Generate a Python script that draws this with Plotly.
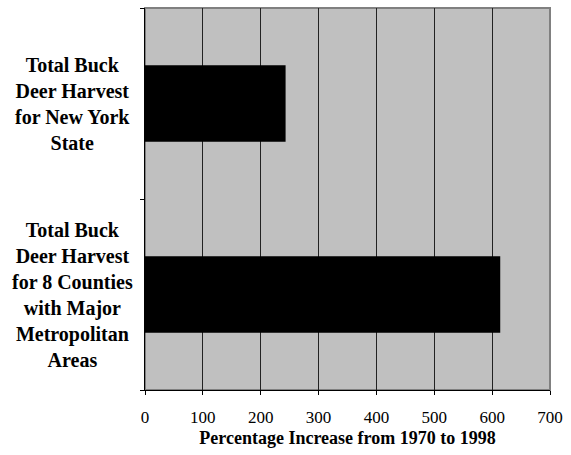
import plotly.graph_objects as go

categories = [
    "Total Buck<br>Deer Harvest<br>for 8 Counties<br>with Major<br>Metropolitan<br>Areas",
    "Total Buck<br>Deer Harvest<br>for New York<br>State",
]
values = [614, 243]
x_ticks = [0, 100, 200, 300, 400, 500, 600, 700]
x_title = "Percentage Increase from 1970 to 1998"

FONT = "Liberation Serif"

fig = go.Figure(
    go.Bar(
        y=categories,
        x=values,
        orientation="h",
        marker=dict(color="black", line=dict(width=0)),
        width=0.4,
    )
)

for cat in categories:
    fig.add_annotation(
        x=-0.179, xref="paper", y=cat, yref="y",
        text="<b>" + cat + "</b>", showarrow=False,
        xanchor="center", yanchor="middle", align="center",
        font=dict(family=FONT, size=20, color="black"),
    )

fig.add_shape(
    type="rect", xref="paper", yref="paper", x0=0, x1=1, y0=0, y1=1,
    line=dict(color="#808080", width=2), layer="below",
)

fig.update_layout(
    width=571, height=455,
    margin=dict(l=145, r=19, t=8, b=65),
    paper_bgcolor="white",
    plot_bgcolor="#c0c0c0",
    showlegend=False,
    font=dict(family=FONT, color="black"),
    xaxis=dict(
        range=[0, 700], tickvals=x_ticks,
        showgrid=True, gridcolor="#222222", gridwidth=1,
        showline=True, linecolor="black", linewidth=1,
        ticks="outside", ticklen=4, tickcolor="black",
        tickfont=dict(family=FONT, size=17),
        ticklabelstandoff=8,
        zeroline=False,
        title=dict(text="<b>" + x_title + "</b>", font=dict(family=FONT, size=18), standoff=4),
    ),
    yaxis=dict(
        categoryorder="array", categoryarray=categories,
        tickson="boundaries", ticks="outside", ticklen=4, tickcolor="black",
        showticklabels=False, showgrid=False,
        showline=True, linecolor="black", linewidth=1,
        range=[-0.5, 1.5],
    ),
)

fig.write_html(
    "out.html",
    config={"displayModeBar": False},
    post_script="document.body.style.margin='0';",
)
